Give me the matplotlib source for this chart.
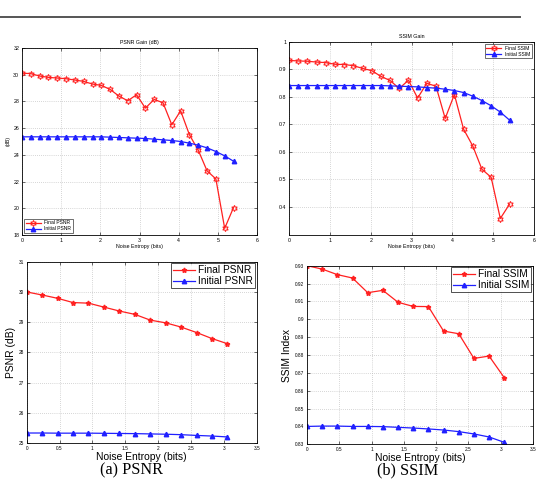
import matplotlib
matplotlib.use("Agg")
import matplotlib.pyplot as plt
from matplotlib.lines import Line2D

plt.rcParams['font.family'] = ['Liberation Sans', 'DejaVu Sans']

# ---- data: top row (full range) ----
x_top = [0.225 * i for i in range(25)]
final_psnr_top = [30.12, 30.08, 29.9, 29.8, 29.75, 29.7, 29.6, 29.5, 29.3, 29.2,
                  28.9, 28.4, 28.05, 28.5, 27.5, 28.15, 27.9, 26.25, 27.3, 25.5,
                  24.35, 22.8, 22.2, 18.5, 20.05]
init_psnr_top = [25.35, 25.35, 25.35, 25.35, 25.35, 25.35, 25.35, 25.35, 25.35, 25.35,
                 25.325, 25.3, 25.275, 25.25, 25.225, 25.175, 25.125, 25.075, 25.0, 24.875,
                 24.725, 24.525, 24.25, 23.925, 23.525]
final_ssim_top = [0.933, 0.931, 0.930, 0.927, 0.925, 0.919, 0.918, 0.914, 0.904, 0.896,
                  0.875, 0.860, 0.831, 0.861, 0.796, 0.850, 0.839, 0.722, 0.809, 0.683,
                  0.622, 0.537, 0.508, 0.358, 0.410]
init_ssim_top = [0.8416, 0.8416, 0.8416, 0.8416, 0.8416, 0.8416, 0.8416, 0.8416, 0.8416, 0.8416,
                 0.8416, 0.8404, 0.8392, 0.838, 0.8368, 0.8343, 0.832, 0.8283, 0.8235, 0.8162,
                 0.803, 0.787, 0.768, 0.745, 0.716]

# ---- data: bottom row (zoomed range) ----
x_bot = [0.235 * i for i in range(14)]
final_psnr_bot = [30.0, 29.9, 29.79, 29.65, 29.63, 29.5, 29.37, 29.26, 29.07, 28.98,
                  28.84, 28.66, 28.46, 28.29]
init_psnr_bot = [25.34, 25.34, 25.335, 25.335, 25.335, 25.33, 25.325, 25.32, 25.31, 25.3,
                 25.285, 25.26, 25.24, 25.21]
final_ssim_bot = [0.930, 0.9281, 0.925, 0.9231, 0.9149, 0.9162, 0.9095, 0.9072, 0.9071, 0.8934,
                  0.8919, 0.8781, 0.8794, 0.8673]
init_ssim_bot = [0.840, 0.8402, 0.8402, 0.840, 0.840, 0.8399, 0.8395, 0.8391, 0.8386, 0.838,
                 0.8371, 0.8358, 0.8341, 0.8311]

RED = '#ff2020'
BLUE = '#2020ff'

fig = plt.figure(figsize=(5.36, 4.88), dpi=100)

# page rule at top
fig.add_artist(Line2D([0.0, 0.97], [0.965, 0.965], color='#555555', lw=1.4,
                      transform=fig.transFigure))


def style(ax, fs):
    ax.grid(True, linestyle=(0, (1, 2)), color='#b0b0b0', linewidth=0.5)
    ax.tick_params(direction='in', top=True, right=True, labelsize=fs,
                   length=2, width=0.4, pad=2)
    for s in ax.spines.values():
        s.set_linewidth(0.6)
        s.set_color('black')


star6 = (6, 1, 0)
star5 = (5, 1, 0)

# Top-left
ax1 = fig.add_axes([22/536, (488-235)/488, 235/536, 187/488])
ax1.plot(x_top, final_psnr_top, color=RED, lw=0.9, marker=star6, ms=4.5,
         mfc='none', mec=RED, mew=0.7, label='Final PSNR')
ax1.plot(x_top, init_psnr_top, color=BLUE, lw=0.9, marker='^', ms=3.2,
         mfc=BLUE, mec=BLUE, label='Initial PSNR')
ax1.set_xlim(0, 6)
ax1.set_ylim(18, 32)
ax1.set_xticks(range(0, 7))
ax1.set_yticks(range(18, 33, 2))
ax1.set_title('PSNR Gain (dB)', fontsize=3.8, pad=3)
ax1.set_xlabel('Noise Entropy (bits)', fontsize=3.8, labelpad=1)
ax1.set_ylabel('(dB)', fontsize=3.8, labelpad=2)
style(ax1, 3.8)
leg = ax1.legend(loc='lower left', fontsize=3.6, frameon=True, fancybox=False,
                 borderpad=0.3, handlelength=3, labelspacing=0.2, borderaxespad=0.4)
leg.get_frame().set_edgecolor('black')
leg.get_frame().set_linewidth(0.5)

# Top-right
ax2 = fig.add_axes([289/536, (488-235)/488, 245/536, 193/488])
ax2.plot(x_top, final_ssim_top, color=RED, lw=0.9, marker=star6, ms=4.5,
         mfc='none', mec=RED, mew=0.7, label='Final SSIM')
ax2.plot(x_top, init_ssim_top, color=BLUE, lw=0.9, marker='^', ms=3.2,
         mfc=BLUE, mec=BLUE, label='Initial SSIM')
ax2.set_xlim(0, 6)
ax2.set_ylim(0.298, 1.0)
ax2.set_xticks(range(0, 7))
ax2.set_yticks([0.4, 0.5, 0.6, 0.7, 0.8, 0.9, 1.0])
ax2.set_yticklabels(['0.4', '0.5', '0.6', '0.7', '0.8', '0.9', '1'])
ax2.set_title('SSIM Gain', fontsize=3.8, pad=3)
ax2.set_xlabel('Noise Entropy (bits)', fontsize=3.8, labelpad=1)
style(ax2, 3.8)
leg = ax2.legend(loc='upper right', fontsize=3.6, frameon=True, fancybox=False,
                 borderpad=0.3, handlelength=3, labelspacing=0.2, borderaxespad=0.4)
leg.get_frame().set_edgecolor('black')
leg.get_frame().set_linewidth(0.5)

# Bottom-left
ax3 = fig.add_axes([26.7/536, (488-443.3)/488, 230/536, 181.6/488])
ax3.plot(x_bot, final_psnr_bot, color=RED, lw=0.9, marker=star5, ms=3.5,
         mfc=RED, mec=RED, label='Final PSNR')
ax3.plot(x_bot, init_psnr_bot, color=BLUE, lw=0.9, marker='^', ms=3.2,
         mfc=BLUE, mec=BLUE, label='Initial PSNR')
ax3.set_xlim(0, 3.5)
ax3.set_ylim(25, 31)
ax3.set_xticks([0, 0.5, 1, 1.5, 2, 2.5, 3, 3.5])
ax3.set_xticklabels(['0', '0.5', '1', '1.5', '2', '2.5', '3', '3.5'])
ax3.set_yticks(range(25, 32))
ax3.set_xlabel('Noise Entropy (bits)', fontsize=7.4, labelpad=1)
ax3.set_ylabel('PSNR (dB)', fontsize=7.4, labelpad=2)
style(ax3, 3.4)
leg = ax3.legend(loc='upper right', fontsize=7.3, frameon=True, fancybox=False,
                 borderpad=0.2, handlelength=2.2, labelspacing=0.1,
                 borderaxespad=0.15, handletextpad=0.3)
leg.get_frame().set_edgecolor('black')
leg.get_frame().set_linewidth(0.6)

# Bottom-right
ax4 = fig.add_axes([307/536, (488-444.3)/488, 226/536, 178.6/488])
ax4.plot(x_bot, final_ssim_bot, color=RED, lw=0.9, marker=star5, ms=3.5,
         mfc=RED, mec=RED, label='Final SSIM')
ax4.plot(x_bot, init_ssim_bot, color=BLUE, lw=0.9, marker='^', ms=3.2,
         mfc=BLUE, mec=BLUE, label='Initial SSIM')
ax4.set_xlim(0, 3.5)
ax4.set_ylim(0.83, 0.93)
ax4.set_xticks([0, 0.5, 1, 1.5, 2, 2.5, 3, 3.5])
ax4.set_xticklabels(['0', '0.5', '1', '1.5', '2', '2.5', '3', '3.5'])
yt = [0.83, 0.84, 0.85, 0.86, 0.87, 0.88, 0.89, 0.90, 0.91, 0.92, 0.93]
ax4.set_yticks(yt)
ax4.set_yticklabels(['0.83', '0.84', '0.85', '0.86', '0.87', '0.88', '0.89', '0.9',
                     '0.91', '0.92', '0.93'])
ax4.set_xlabel('Noise Entropy (bits)', fontsize=7.4, labelpad=1)
ax4.set_ylabel('SSIM Index', fontsize=7.4, labelpad=2)
style(ax4, 3.4)
leg = ax4.legend(loc='upper right', fontsize=7.3, frameon=True, fancybox=False,
                 borderpad=0.2, handlelength=2.2, labelspacing=0.1,
                 borderaxespad=0.15, handletextpad=0.3)
leg.get_frame().set_edgecolor('black')
leg.get_frame().set_linewidth(0.6)

# captions
fig.text(132/536, 1 - 470/488, '(a) PSNR', fontsize=11.7, family='Liberation Serif',
         ha='center', va='center')
fig.text(408/536, 1 - 470/488, '(b) SSIM', fontsize=11.7, family='Liberation Serif',
         ha='center', va='center')

fig.savefig('out.png', dpi=100)
